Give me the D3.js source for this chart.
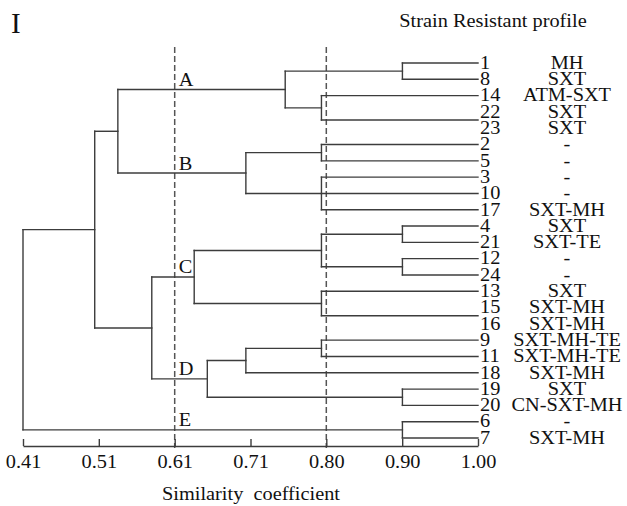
<!DOCTYPE html>
<html>
<head>
<meta charset="utf-8">
<script src="https://cdn.jsdelivr.net/npm/d3@7"></script>
<style>
  html, body { margin: 0; padding: 0; background: #fff; }
  svg { display: block; }
  svg text { font-family: "Liberation Serif", "Times New Roman", serif !important; fill: #111; }
</style>
</head>
<body>
<svg id="chart" width="627" height="506"></svg>
<script>
// ---- data ----
const leaves = ["1","8","14","22","23","2","5","3","10","17","4","21","12","24","13","15","16","9","11","18","19","20","6","7"];
const profiles = ["MH","SXT","ATM-SXT","SXT","SXT","-","-","-","-","SXT-MH","SXT","SXT-TE","-","-","SXT","SXT-MH","SXT-MH","SXT-MH-TE","SXT-MH-TE","SXT-MH","SXT","CN-SXT-MH","-","SXT-MH"];

// merges (linkage): name, children, similarity at which they join
const mergeNames = ["m1_8","m22_23","m14","A","m2_5","m3_10_17","B","AB","m4_21","m12_24","m4_24","m15_16","m13","C","m9_11","m9_18","m19_20","D","CD","ABCD","E","root"];
const mergeChildren = [
  ["1","8"], ["22","23"], ["14","m22_23"], ["m1_8","m14"],
  ["2","5"], ["3","10","17"], ["m2_5","m3_10_17"], ["A","B"],
  ["4","21"], ["12","24"], ["m4_21","m12_24"], ["15","16"], ["13","m15_16"], ["m4_24","m13"],
  ["9","11"], ["m9_11","18"], ["19","20"], ["m9_18","m19_20"], ["C","D"],
  ["AB","CD"], ["6","7"], ["ABCD","E"]
];
const mergeHeights = [0.902,1.00,0.797,0.750, 0.797,0.797,0.699,0.533, 0.902,0.902,0.797,1.00,0.797,0.632, 0.797,0.699,0.902,0.649,0.577, 0.503,0.902,0.41];

const clusterLabels = ["A","B","C","D","E"];
const tickValues = [0.41, 0.5083, 0.6067, 0.705, 0.8033, 0.9017, 1.00];
const tickLabels = ["0.41","0.51","0.61","0.71","0.80","0.90","1.00"];
const cutValues = [0.6067, 0.8033];

// ---- layout ----
const FONT = "'Liberation Serif', 'Times New Roman', serif";
const SX = 1.13; // horizontal stretch of the text
const svg = d3.select("#chart");
const x = d3.scaleLinear().domain([0.41, 1.00]).range([23, 478]);
const y = d3.scalePoint().domain(leaves).range([63, 438]);
const axisY = 446;

// build hierarchy
const childMap = new Map(mergeNames.map((n, i) => [n, mergeChildren[i]]));
const heightMap = new Map(mergeNames.map((n, i) => [n, mergeHeights[i]]));
const root = d3.hierarchy("root", n => childMap.get(n));
root.eachAfter(d => {
  d.h = d.children ? heightMap.get(d.data) : 1.00;
  if (d.children) {
    const ys = d.children.map(c => c.yy);
    d.yy = (d3.min(ys) + d3.max(ys)) / 2;
  } else {
    d.yy = y(d.data);
  }
});

const lineColor = "#3c3c3c";
const g = svg.append("g");

// dashed cut lines
g.selectAll("line.cut").data(cutValues).join("line")
  .attr("class", "cut")
  .attr("x1", d => x(d)).attr("x2", d => x(d))
  .attr("y1", 47).attr("y2", 448)
  .attr("stroke", "#555").attr("stroke-width", 1.5)
  .attr("stroke-dasharray", "6,3");

// verticals
const internal = root.descendants().filter(d => d.children && d.h < 1);
g.selectAll("line.v").data(internal).join("line")
  .attr("class", "v")
  .attr("x1", d => x(d.h)).attr("x2", d => x(d.h))
  .attr("y1", d => d3.min(d.children, c => c.yy))
  .attr("y2", d => d3.max(d.children, c => c.yy))
  .attr("stroke", lineColor).attr("stroke-width", 1.4).attr("stroke-linecap", "square");

// horizontals
const links = root.links().filter(l => x(l.target.h) > x(l.source.h));
g.selectAll("line.h").data(links).join("line")
  .attr("class", "h")
  .attr("x1", d => x(d.source.h)).attr("x2", d => x(d.target.h))
  .attr("y1", d => d.target.yy).attr("y2", d => d.target.yy)
  .attr("stroke", lineColor).attr("stroke-width", 1.4).attr("stroke-linecap", "square");

// helper for stretched text
function stext(sel, tx, ty, str, size, anchor) {
  return sel.append("text")
    .attr("transform", `translate(${tx},${ty}) scale(${SX},1)`)
    .style("font-family", FONT)
    .attr("font-size", size)
    .attr("text-anchor", anchor || "start")
    .text(str);
}

// leaf numbers and profiles
leaves.forEach((l, i) => {
  stext(svg, 480, y(l) + 5.8, l, 18, "start");
  stext(svg, 567, y(l) + 5.8, profiles[i], 18, "middle");
});

// cluster letters
const nodeByName = new Map(root.descendants().map(d => [d.data, d]));
clusterLabels.forEach(c => {
  const n = nodeByName.get(c);
  stext(svg, x(cutValues[0]) + 4, n.yy - 3.5, c, 18, "start");
});

// axis
const axis = d3.axisBottom(x)
  .tickValues(tickValues)
  .tickFormat((d, i) => tickLabels[i])
  .tickSize(-7).tickSizeOuter(0).tickPadding(9);
const ag = svg.append("g").attr("transform", `translate(0,${axisY})`).call(axis)
  .attr("font-family", null);
ag.select(".domain").attr("stroke", lineColor).attr("stroke-width", 1.4);
ag.selectAll(".tick line").attr("stroke", lineColor).attr("stroke-width", 1.4);
ag.selectAll(".tick text")
  .style("font-family", FONT).attr("font-size", 18)
  .attr("fill", "#111")
  .attr("transform", `scale(${SX},1)`);

// titles
stext(svg, 251, 500, "Similarity\u00a0\u00a0coefficient", 18, "middle");
stext(svg, 493, 27, "Strain Resistant profile", 18, "middle");
svg.append("text").attr("x", 11).attr("y", 33).style("font-family", FONT).attr("font-size", 29).text("I");
</script>
</body>
</html>
